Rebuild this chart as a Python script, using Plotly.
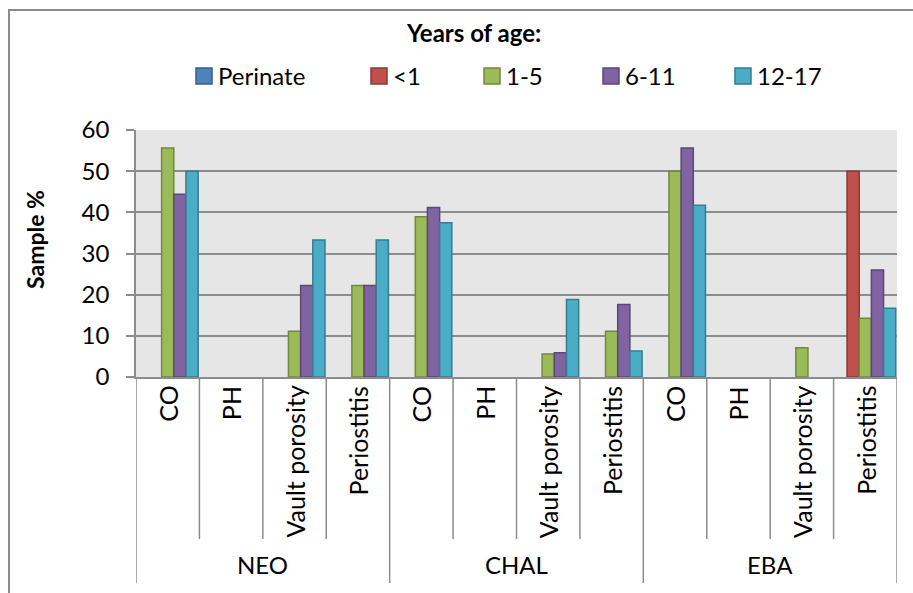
import plotly.graph_objects as go

# ---- data -------------------------------------------------------------
PERIODS = ["NEO", "CHAL", "EBA"]
FEATURES = ["CO", "PH", "Vault porosity", "Periostitis"]
AGE_GROUPS = ["Perinate", "<1", "1-5", "6-11", "12-17"]

perinate = [0, 0, 0, 0, 0, 0, 0, 0, 0, 0, 0, 0]
under_1 = [0, 0, 0, 0, 0, 0, 0, 0, 0, 0, 0, 50.0]
age_1_5 = [55.6, 0, 11.1, 22.2, 38.9, 0, 5.6, 11.1, 50.0, 0, 7.1, 14.3]
age_6_11 = [44.4, 0, 22.2, 22.2, 41.2, 0, 5.9, 17.6, 55.6, 0, 0, 26.0]
age_12_17 = [50.0, 0, 33.3, 33.3, 37.5, 0, 18.8, 6.3, 41.7, 0, 0, 16.7]

Y_TICKS = [0, 10, 20, 30, 40, 50, 60]

# ---- styling ----------------------------------------------------------
FILLS = ["#4F81BD", "#C0504D", "#9BBB59", "#8064A2", "#4BACC6"]
EDGES = ["#385D8A", "#8C3836", "#71893F", "#5C4776", "#357D91"]
GRID = "#8C8C8C"
FONT = "Lato"
FS = 24

W, H = 913, 593
PX0, PX1, PY0, PY1 = 136, 897, 130, 377  # plot area in pixels


def fx(px):
    return (px - PX0) / (PX1 - PX0)


def fy(py):
    return (PY1 - py) / (PY1 - PY0)


categories = [f"{p} {f}" for p in PERIODS for f in FEATURES]
series = [perinate, under_1, age_1_5, age_6_11, age_12_17]

fig = go.Figure()
for name, vals, fill, edge in zip(AGE_GROUPS, series, FILLS, EDGES):
    fig.add_trace(go.Bar(
        x=categories,
        y=[v if v else None for v in vals],
        name=name,
        marker=dict(color=fill, line=dict(color=edge, width=1.5)),
        showlegend=False,
    ))

shapes = []
annotations = []

# category dividers below the axis
n = len(categories)
for i in range(n + 1):
    bottom = 583 if i % len(FEATURES) == 0 else 539
    shapes.append(dict(type="line", xref="x", yref="paper",
                       x0=i - 0.5, x1=i - 0.5, y0=0, y1=fy(bottom),
                       line=dict(color=GRID, width=1.5)))

# rotated feature labels
for i, cat in enumerate(categories):
    feat = FEATURES[i % len(FEATURES)]
    annotations.append(dict(text=feat, x=cat, xref="x", y=fy(384), yref="paper",
                            textangle=-90, xanchor="center", yanchor="top",
                            showarrow=False, font=dict(family=FONT, size=25, color="black")))

# period labels
for j, p in enumerate(PERIODS):
    annotations.append(dict(text=p, x=j * len(FEATURES) + 1.5, xref="x", y=fy(564), yref="paper",
                            xanchor="center", yanchor="middle", showarrow=False,
                            font=dict(family=FONT, size=FS, color="black")))

# axis title
annotations.append(dict(text="<b>Sample %</b>", x=fx(35), y=fy(240), xref="paper", yref="paper",
                        textangle=-90, xanchor="center", yanchor="middle", showarrow=False,
                        font=dict(family=FONT, size=23, color="black")))

# legend heading and entries
annotations.append(dict(text="<b>Years of age:</b>", x=fx(473), y=fy(32), xref="paper", yref="paper",
                        xanchor="center", yanchor="middle", showarrow=False,
                        font=dict(family=FONT, size=FS, color="black")))
legend_x = [196, 371, 484, 603, 735]
for name, fill, edge, lx in zip(AGE_GROUPS, FILLS, EDGES, legend_x):
    shapes.append(dict(type="rect", xref="paper", yref="paper",
                       x0=fx(lx), x1=fx(lx + 16), y0=fy(68), y1=fy(84),
                       fillcolor=fill, line=dict(color=edge, width=1.5)))
    annotations.append(dict(text=name, x=fx(lx + 20), y=fy(76), xref="paper", yref="paper",
                            xanchor="left", yanchor="middle", showarrow=False,
                            font=dict(family=FONT, size=FS, color="black")))

# outer chart frame
shapes.append(dict(type="line", xref="paper", yref="paper", x0=fx(9), x1=fx(930),
                   y0=fy(10), y1=fy(10), line=dict(color="#8A8A8A", width=2)))
shapes.append(dict(type="line", xref="paper", yref="paper", x0=fx(9), x1=fx(9),
                   y0=fy(9), y1=fy(610), line=dict(color="#8A8A8A", width=2)))

fig.update_layout(
    width=W, height=H,
    margin=dict(l=PX0, r=W - PX1, t=PY0, b=H - PY1, pad=0),
    paper_bgcolor="white",
    plot_bgcolor="#E6E6E6",
    barmode="group",
    bargap=0.04,
    bargroupgap=0,
    font=dict(family=FONT, size=FS, color="black"),
    shapes=shapes,
    annotations=annotations,
    xaxis=dict(type="category", range=[-0.5, n - 0.5], showticklabels=False,
               showgrid=False, showline=True, linecolor=GRID, linewidth=1.5,
               ticks="", zeroline=False, fixedrange=True),
    yaxis=dict(range=[0, 60], tickvals=Y_TICKS, showgrid=True, gridcolor=GRID,
               gridwidth=1.5, showline=True, linecolor=GRID, linewidth=1.5,
               ticks="outside", ticklen=8, tickcolor=GRID, tickwidth=1.5,
               ticklabelstandoff=12, zeroline=False,
               tickfont=dict(family=FONT, size=FS, color="black"), fixedrange=True),
)

fig.write_html("out.html")
